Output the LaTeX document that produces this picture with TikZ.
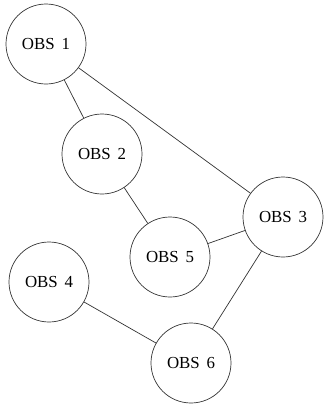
\documentclass[tikz,border=0pt]{standalone}
\usepackage{fontspec}
\setmainfont{Liberation Serif}
\usepackage{tikz}
\usetikzlibrary{positioning}
\tikzset{
    obs/.style={
        circle,
        draw=black!80,
        line width=0.5pt,
        minimum size=2cm,
        inner sep=0pt,
        font=\fontsize{12}{14}\selectfont
    },
    link/.style={
        line width=0.5pt,
        black!80
    }
}

\begin{document}
\begin{tikzpicture}

\useasboundingbox (0,0) rectangle (8.075,-10.125);

%---------------- Stations ----------------

\node[obs] (o1) at (1.15,-1.1) {OBS\hspace{0.4em}1};
\node[obs] (o2) at (2.55,-3.85) {OBS\hspace{0.4em}2};
\node[obs] (o3) at (7.075,-5.425) {OBS\hspace{0.4em}3};
\node[obs] (o5) at (4.25,-6.425) {OBS\hspace{0.4em}5};
\node[obs] (o4) at (1.225,-7.05) {OBS\hspace{0.4em}4};
\node[obs] (o6) at (4.775,-9.075) {OBS\hspace{0.4em}6};

%---------------- Links ----------------

\draw[link] (o1)--(o2);
\draw[link] (o1)--(o3);
\draw[link] (o2)--(o5)--(o3);
\draw[link] (o3)--(o6);
\draw[link] (o4)--(o6);

\end{tikzpicture}
\end{document}
